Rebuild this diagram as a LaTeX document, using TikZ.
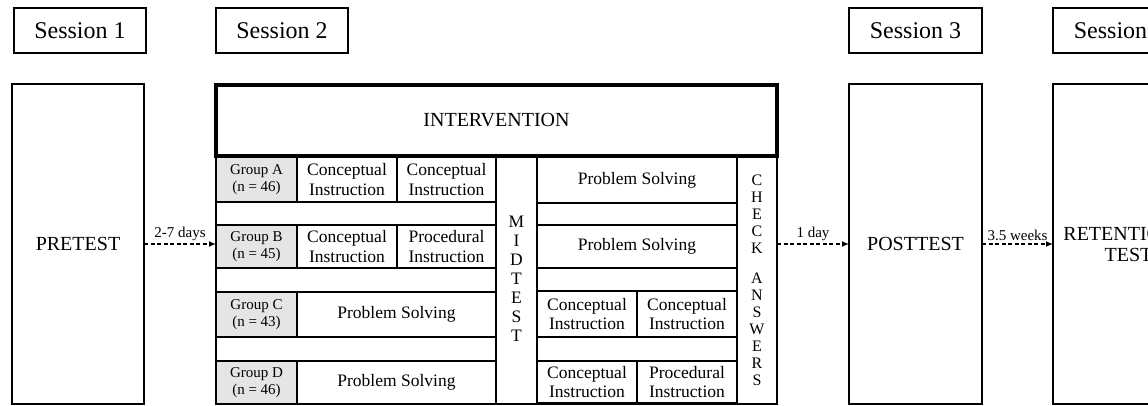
\documentclass[tikz,border=0pt]{standalone}
\usepackage{fontspec}
\setmainfont{Liberation Serif}
\usetikzlibrary{arrows.meta}
\tikzset{
  bx/.style={draw, line width=2.6pt, outer sep=0pt, inner sep=0pt, anchor=north west, align=center},
  sess/.style={bx, font=\fontsize{24}{26}\selectfont},
  big/.style={bx, font=\fontsize{20}{21}\selectfont},
  cell/.style={draw, line width=1.4pt, outer sep=0pt, inner sep=0pt, anchor=north west, align=center, font=\fontsize{17.5}{19.5}\selectfont},
  grp/.style={cell, fill=gray!20, font=\fontsize{15}{17.3}\selectfont},
  gaparrow/.style={-{Latex[length=7pt,width=6pt]}, dash pattern=on 4pt off 2.5pt, line width=1.4pt},
  gaplabel/.style={above, inner sep=2.5pt, font=\fontsize{15}{17}\selectfont},
}
\begin{document}
\begin{tikzpicture}[x=1pt,y=-1pt]
\useasboundingbox (0,0) rectangle (1148,406);
\clip (0,0) rectangle (1148,406);
% session labels
\node[sess, minimum width=132pt, minimum height=45pt] (s1) at (14,8) {Session 1};
\node[sess, minimum width=132pt, minimum height=45pt] (s2) at (216,8) {Session 2};
\node[sess, minimum width=133pt, minimum height=45pt] (s3) at (849,8) {Session 3};
\node[sess, minimum width=133pt, minimum height=45pt] (s4) at (1053,8) {Session 4};
% main boxes
\node[big, minimum width=132pt, minimum height=320pt] (pre) at (12,84) {PRETEST};
\node[big, minimum width=133pt, minimum height=320pt] (post) at (849,84) {POSTTEST};
\node[big, minimum width=133pt, minimum height=320pt] (ret) at (1053,84) {RETENTION\\\hspace*{18pt}TEST};
% intervention cells
\node[grp, minimum width=81pt, minimum height=45pt] (ga) at (216,157) {Group A\\(n = 46)};
\node[cell, minimum width=100pt, minimum height=45pt] (a1) at (297,157) {Conceptual\\Instruction};
\node[cell, minimum width=99pt, minimum height=45pt] (a2) at (397,157) {Conceptual\\Instruction};
\node[grp, minimum width=81pt, minimum height=43pt] (gb) at (216,225) {Group B\\(n = 45)};
\node[cell, minimum width=100pt, minimum height=43pt] (b1) at (297,225) {Conceptual\\Instruction};
\node[cell, minimum width=99pt, minimum height=43pt] (b2) at (397,225) {Procedural\\Instruction};
\node[grp, minimum width=81pt, minimum height=45pt] (gc) at (216,292) {Group C\\(n = 43)};
\node[cell, minimum width=199pt, minimum height=45pt] (c1) at (297,292) {Problem Solving};
\node[grp, minimum width=81pt, minimum height=43pt] (gd) at (216,361) {Group D\\(n = 46)};
\node[cell, minimum width=199pt, minimum height=43pt] (d1) at (297,361) {Problem Solving};
\node[cell, minimum width=41pt, minimum height=247pt, font=\fontsize{17.5}{19.1}\selectfont] (mid) at (496,157)
  {\raisebox{-4pt}{\begin{tabular}{@{}c@{}}M\\I\\D\\T\\E\\S\\T\end{tabular}}};
\node[cell, minimum width=200pt, minimum height=46pt] (ra) at (537,157) {Problem Solving};
\node[cell, minimum width=200pt, minimum height=43pt] (rb) at (537,225) {Problem Solving};
\node[cell, minimum width=100pt, minimum height=46pt] (rc1) at (537,291) {Conceptual\\Instruction};
\node[cell, minimum width=100pt, minimum height=46pt] (rc2) at (637,291) {Conceptual\\Instruction};
\node[cell, minimum width=100pt, minimum height=42pt] (rd1) at (537,361) {Conceptual\\Instruction};
\node[cell, minimum width=100pt, minimum height=42pt] (rd2) at (637,361) {Procedural\\Instruction};
\node[cell, minimum width=40pt, minimum height=247pt, font=\fontsize{16}{17}\selectfont] (chk) at (737,157) {C\\H\\E\\C\\K\\[12.6pt]A\\N\\S\\W\\E\\R\\S};
% frames
\node[bx, minimum width=561pt, minimum height=319pt] (frame) at (216,85) {};
\node[big, line width=3.6pt, minimum width=561pt, minimum height=71pt] (int) at (216,85) {INTERVENTION};
% connectors
\draw[gaparrow] (pre.east) -- node[gaplabel] {2-7 days} (pre.east -| frame.west);
\draw[gaparrow] (post.west -| frame.east) -- node[gaplabel] {1 day} (post.west);
\draw[gaparrow] (post.east) -- node[gaplabel] {3.5 weeks} (ret.west);
\end{tikzpicture}
\end{document}
